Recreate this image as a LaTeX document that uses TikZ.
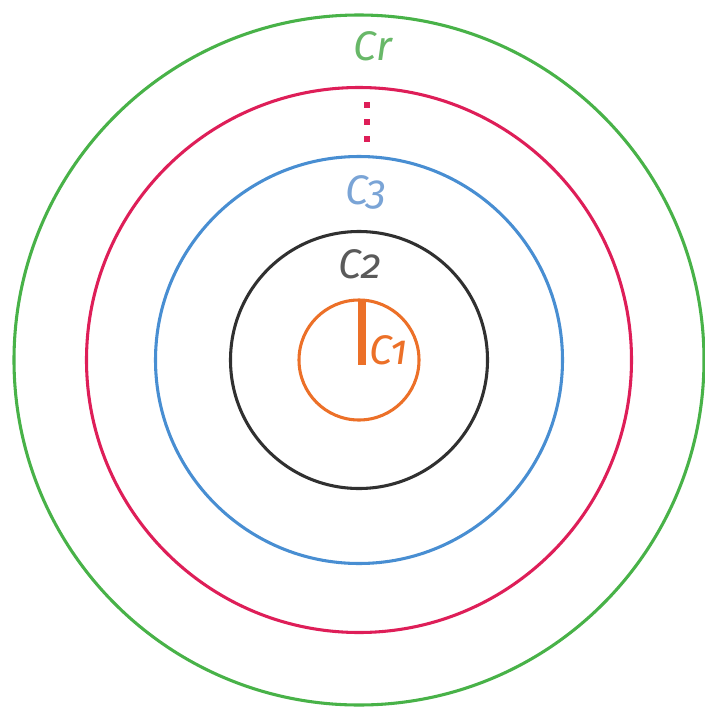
\documentclass[tikz,border=0pt]{standalone}
\usepackage{fontspec}
\setmainfont{Fira Sans}[Numbers=OldStyle]
\definecolor{cgreen}{RGB}{72,178,72}
\definecolor{cgreenl}{RGB}{104,184,104}
\definecolor{cred}{RGB}{222,30,88}
\definecolor{cblue}{RGB}{72,142,210}
\definecolor{cbluel}{RGB}{122,164,214}
\definecolor{cblack}{RGB}{48,48,48}
\definecolor{cgrayl}{RGB}{90,90,90}
\definecolor{corange}{RGB}{236,112,40}
\tikzset{
  ring/.style={line width=2.3pt},
  lbl/.style={inner sep=0pt,font=\fontsize{31}{31}\selectfont\itshape},
  dotsq/.style={fill=cred,draw=none,minimum size=4.5pt,inner sep=0pt}
}
\begin{document}
\begin{tikzpicture}[x=0.75pt,y=-0.75pt]
\useasboundingbox[fill=white] (0,0) rectangle (704,711);
\coordinate (o) at (359,360);
\draw[ring,cgreen] (o) circle (345);
\draw[ring,cred] (o) circle (272.5);
\draw[ring,cblue] (o) circle (203.5);
\draw[ring,cblack] (o) circle (128.5);
\draw[ring,corange] (o) circle (60);
\coordinate (bt) at (361.5,300);
\coordinate (bb) at (361.5,365);
\draw[corange,line width=6pt] (bt) -- (bb);
\node[lbl,text=cgreenl] (cr) at (373,46) {Cr};
\node[dotsq] (d1) at (366.5,105) {};
\node[dotsq] (d2) at (366.5,122) {};
\node[dotsq] (d3) at (366.5,139) {};
\node[lbl,text=cbluel] (c3) at (366,192) {C3};
\node[lbl,text=cgrayl] (c2) at (360,264) {C2};
\node[lbl,text=corange] (c1) at (389,350) {C1};
\end{tikzpicture}
\end{document}
